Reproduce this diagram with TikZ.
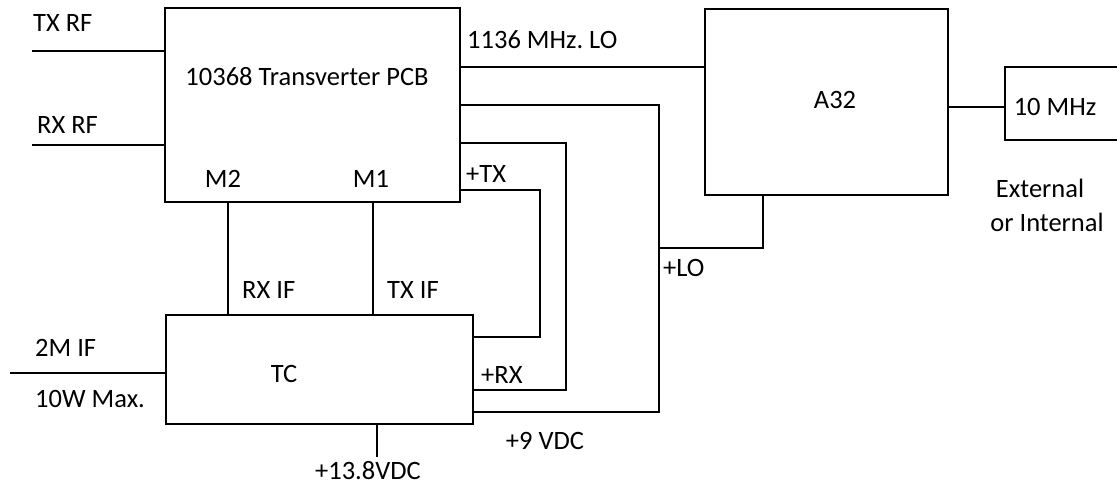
\documentclass[tikz,border=0pt]{standalone}
\usepackage{fontspec}
\setmainfont{Carlito}
\usetikzlibrary{positioning}
\frenchspacing

\begin{document}
\begin{tikzpicture}[x=1pt,y=-1pt]
\tikzset{
  unitbox/.style={rectangle,draw,line width=2.5pt,inner sep=0pt},
  wire/.style={line width=2.5pt},
  lbl/.style={inner sep=0pt,font=\fontsize{26.5}{30}\selectfont}
}
\useasboundingbox (0,0) rectangle (1117,484);
\node[unitbox,minimum width=295pt,minimum height=194pt] (pcb) at (312.5,105) {};
\node[unitbox,minimum width=243pt,minimum height=186pt] (a32) at (826.5,102) {};
\node[unitbox,minimum width=130pt,minimum height=73pt] (ref) at (1070,103.5) {};
\node[unitbox,minimum width=307pt,minimum height=109pt] (tc) at (319.5,369.5) {};
\coordinate (txrf) at (32,51);
\coordinate (rxrf) at (32,145);
\coordinate (ifin) at (10,373);
\coordinate (vin) at (377,457);
\coordinate (m2) at (228,0);
\coordinate (m1) at (373,0);
\coordinate (lo) at (0,67);
\coordinate (ext) at (0,107);
\coordinate (nine) at (659,105);
\coordinate (ninebot) at (659,412);
\coordinate (lotap) at (659,248);
\coordinate (lobend) at (763,248);
\coordinate (rxtop) at (566,143);
\coordinate (rxbot) at (566,390);
\coordinate (txtop) at (540,190);
\coordinate (txbot) at (540,337);
% labels
\node[lbl,anchor=west] (l_txrf) at (33,23) {TX RF};
\node[lbl,anchor=west] (l_rxrf) at (37,125) {RX RF};
\node[lbl] (l_pcb) at (307,77) {10368 Transverter PCB};
\node[lbl] (l_m2) at (223,179) {M2};
\node[lbl] (l_m1) at (371,179) {M1};
\node[lbl,anchor=west] (l_lo) at (467,40) {1136 MHz. LO};
\node[lbl,anchor=west] (l_tx) at (466,174) {+TX};
\node[lbl,anchor=west] (l_rxif) at (242,290) {RX IF};
\node[lbl,anchor=west] (l_txif) at (387,290) {TX IF};
\node[lbl,anchor=west] (l_2m) at (35,348) {2M IF};
\node[lbl,anchor=west] (l_max) at (35,399) {10W Max.};
\node[lbl] (l_tc) at (284,374) {TC};
\node[lbl,anchor=base] (l_vin) at (368,479) {+13.8VDC};
\node[lbl,anchor=west] (l_rx) at (481,375) {+RX};
\node[lbl] (l_nine) at (545,441) {+9 VDC};
\node[lbl,anchor=west] (l_plo) at (663,268) {+LO};
\node[lbl] (l_a32) at (835,100) {A32};
\node[lbl] (l_ref) at (1055,107) {10 MHz};
\node[lbl] (l_ext) at (1040,188) {External};
\node[lbl] (l_int) at (1047,222) {or Internal};
% wires
\draw[wire] (txrf) -- (txrf -| pcb.west);
\draw[wire] (rxrf) -- (rxrf -| pcb.west);
\draw[wire] (ifin) -- (ifin -| tc.west);
\draw[wire] (m2 |- pcb.south) -- (m2 |- tc.north);
\draw[wire] (m1 |- pcb.south) -- (m1 |- tc.north);
\draw[wire] (vin |- tc.south) -- (vin);
\draw[wire] (lo -| pcb.east) -- (lo -| a32.west);
\draw[wire] (ext -| a32.east) -- (ext -| ref.west);
\draw[wire] (nine -| pcb.east) -- (nine) -- (ninebot) -- (ninebot -| tc.east);
\draw[wire] (lotap) -- (lobend) -- (lobend |- a32.south);
\draw[wire] (rxtop -| pcb.east) -- (rxtop) -- (rxbot) -- (rxbot -| tc.east);
\draw[wire] (txtop -| pcb.east) -- (txtop) -- (txbot) -- (txbot -| tc.east);
\end{tikzpicture}
\end{document}
